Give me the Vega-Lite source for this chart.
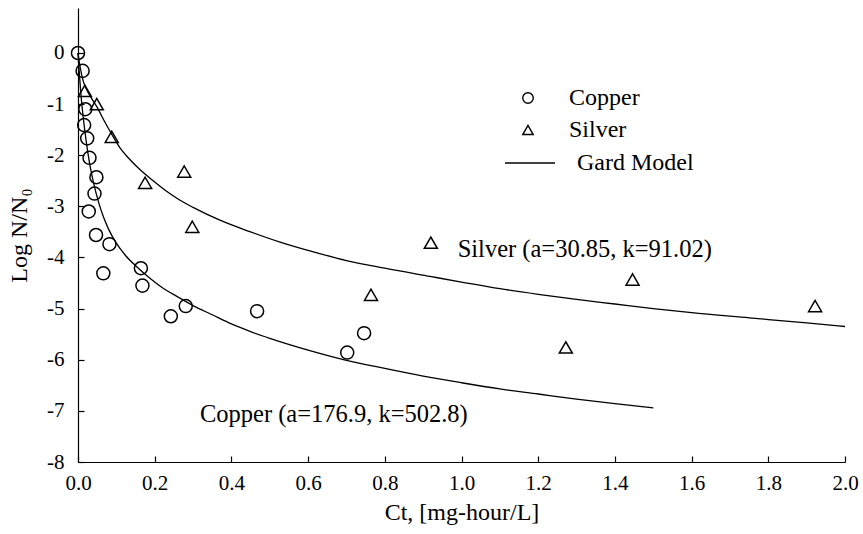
{
  "$schema": "https://vega.github.io/schema/vega-lite/v6.json",
  "width": 767,
  "height": 454,
  "autosize": "none",
  "padding": {"left": 78, "top": 8, "right": 18, "bottom": 72},
  "background": "white",
  "config": {
    "view": {"stroke": null},
    "font": "Liberation Serif",
    "axis": {"grid": false, "domainColor": "black", "domainWidth": 1.2, "tickColor": "black", "tickWidth": 1.2, "labelColor": "black", "titleColor": "black", "labelFont": "Liberation Serif", "titleFont": "Liberation Serif", "titleFontWeight": "normal", "labelFontSize": 21, "titleFontSize": 24, "labelFlush": false, "labelOverlap": false}
  },
  "datasets": {
    "points": [
      {"metal": "Copper", "ct": 0.0, "logn": 0.0},
      {"metal": "Copper", "ct": 0.012, "logn": -0.35},
      {"metal": "Copper", "ct": 0.019, "logn": -1.1},
      {"metal": "Copper", "ct": 0.016, "logn": -1.41},
      {"metal": "Copper", "ct": 0.024, "logn": -1.67},
      {"metal": "Copper", "ct": 0.03, "logn": -2.05},
      {"metal": "Copper", "ct": 0.048, "logn": -2.43},
      {"metal": "Copper", "ct": 0.043, "logn": -2.75},
      {"metal": "Copper", "ct": 0.028, "logn": -3.1},
      {"metal": "Copper", "ct": 0.047, "logn": -3.56},
      {"metal": "Copper", "ct": 0.082, "logn": -3.74},
      {"metal": "Copper", "ct": 0.066, "logn": -4.31},
      {"metal": "Copper", "ct": 0.164, "logn": -4.21},
      {"metal": "Copper", "ct": 0.168, "logn": -4.55},
      {"metal": "Copper", "ct": 0.242, "logn": -5.15},
      {"metal": "Copper", "ct": 0.281, "logn": -4.95},
      {"metal": "Copper", "ct": 0.467, "logn": -5.05},
      {"metal": "Copper", "ct": 0.702, "logn": -5.86},
      {"metal": "Copper", "ct": 0.746, "logn": -5.48},
      {"metal": "Silver", "ct": 0.018, "logn": -0.74},
      {"metal": "Silver", "ct": 0.049, "logn": -1.0},
      {"metal": "Silver", "ct": 0.088, "logn": -1.64},
      {"metal": "Silver", "ct": 0.175, "logn": -2.54},
      {"metal": "Silver", "ct": 0.277, "logn": -2.32},
      {"metal": "Silver", "ct": 0.298, "logn": -3.4},
      {"metal": "Silver", "ct": 0.764, "logn": -4.73},
      {"metal": "Silver", "ct": 0.92, "logn": -3.71},
      {"metal": "Silver", "ct": 1.272, "logn": -5.76},
      {"metal": "Silver", "ct": 1.446, "logn": -4.43},
      {"metal": "Silver", "ct": 1.922, "logn": -4.95}
    ],
    "model": [
      {"metal": "Copper", "ct": 0.0, "logn": 0.0},
      {"metal": "Copper", "ct": 0.003, "logn": -0.35},
      {"metal": "Copper", "ct": 0.007, "logn": -0.75},
      {"metal": "Copper", "ct": 0.012, "logn": -1.15},
      {"metal": "Copper", "ct": 0.02, "logn": -1.65},
      {"metal": "Copper", "ct": 0.03, "logn": -2.15},
      {"metal": "Copper", "ct": 0.04, "logn": -2.52},
      {"metal": "Copper", "ct": 0.055, "logn": -2.95},
      {"metal": "Copper", "ct": 0.066, "logn": -3.2},
      {"metal": "Copper", "ct": 0.08, "logn": -3.45},
      {"metal": "Copper", "ct": 0.1, "logn": -3.72},
      {"metal": "Copper", "ct": 0.125, "logn": -3.97},
      {"metal": "Copper", "ct": 0.153, "logn": -4.18},
      {"metal": "Copper", "ct": 0.19, "logn": -4.42},
      {"metal": "Copper", "ct": 0.222, "logn": -4.6},
      {"metal": "Copper", "ct": 0.26, "logn": -4.77},
      {"metal": "Copper", "ct": 0.3, "logn": -4.94},
      {"metal": "Copper", "ct": 0.35, "logn": -5.12},
      {"metal": "Copper", "ct": 0.4, "logn": -5.3},
      {"metal": "Copper", "ct": 0.45, "logn": -5.45},
      {"metal": "Copper", "ct": 0.5, "logn": -5.58},
      {"metal": "Copper", "ct": 0.6, "logn": -5.81},
      {"metal": "Copper", "ct": 0.7, "logn": -6.01},
      {"metal": "Copper", "ct": 0.8, "logn": -6.17},
      {"metal": "Copper", "ct": 0.9, "logn": -6.32},
      {"metal": "Copper", "ct": 1.0, "logn": -6.45},
      {"metal": "Copper", "ct": 1.1, "logn": -6.57},
      {"metal": "Copper", "ct": 1.2, "logn": -6.67},
      {"metal": "Copper", "ct": 1.3, "logn": -6.77},
      {"metal": "Copper", "ct": 1.4, "logn": -6.86},
      {"metal": "Copper", "ct": 1.5, "logn": -6.94},
      {"metal": "Silver", "ct": 0.0, "logn": 0.0},
      {"metal": "Silver", "ct": 0.005, "logn": -0.25},
      {"metal": "Silver", "ct": 0.014, "logn": -0.56},
      {"metal": "Silver", "ct": 0.03, "logn": -0.82},
      {"metal": "Silver", "ct": 0.049, "logn": -1.05},
      {"metal": "Silver", "ct": 0.07, "logn": -1.35},
      {"metal": "Silver", "ct": 0.092, "logn": -1.64},
      {"metal": "Silver", "ct": 0.11, "logn": -1.86},
      {"metal": "Silver", "ct": 0.131, "logn": -2.05},
      {"metal": "Silver", "ct": 0.16, "logn": -2.27},
      {"metal": "Silver", "ct": 0.196, "logn": -2.5},
      {"metal": "Silver", "ct": 0.23, "logn": -2.7},
      {"metal": "Silver", "ct": 0.266, "logn": -2.88},
      {"metal": "Silver", "ct": 0.3, "logn": -3.02},
      {"metal": "Silver", "ct": 0.37, "logn": -3.27},
      {"metal": "Silver", "ct": 0.45, "logn": -3.5},
      {"metal": "Silver", "ct": 0.527, "logn": -3.7},
      {"metal": "Silver", "ct": 0.6, "logn": -3.86},
      {"metal": "Silver", "ct": 0.7, "logn": -4.06},
      {"metal": "Silver", "ct": 0.8, "logn": -4.21},
      {"metal": "Silver", "ct": 0.918, "logn": -4.37},
      {"metal": "Silver", "ct": 1.0, "logn": -4.48},
      {"metal": "Silver", "ct": 1.1, "logn": -4.61},
      {"metal": "Silver", "ct": 1.2, "logn": -4.72},
      {"metal": "Silver", "ct": 1.3, "logn": -4.82},
      {"metal": "Silver", "ct": 1.4, "logn": -4.91},
      {"metal": "Silver", "ct": 1.5, "logn": -5.0},
      {"metal": "Silver", "ct": 1.6, "logn": -5.08},
      {"metal": "Silver", "ct": 1.75, "logn": -5.18},
      {"metal": "Silver", "ct": 1.9, "logn": -5.28},
      {"metal": "Silver", "ct": 2.0, "logn": -5.35}
    ],
    "notes": [
      {"ct": 0.99, "logn": -3.86, "text": "Silver (a=30.85, k=91.02)"},
      {"ct": 0.318, "logn": -7.08, "text": "Copper (a=176.9, k=502.8)"}
    ]
  },
  "layer": [
    {
      "data": {"name": "model"},
      "mark": {"type": "line", "strokeWidth": 1.3, "interpolate": "monotone"},
      "encoding": {
        "x": {"field": "ct", "type": "quantitative"},
        "y": {"field": "logn", "type": "quantitative"},
        "detail": {"field": "metal"},
        "color": {
          "datum": "Gard Model", "type": "nominal",
          "scale": {"range": ["black"]},
          "legend": {
            "title": null, "orient": "none", "legendX": 426, "legendY": 129,
            "symbolType": "stroke", "symbolSize": 2500, "symbolStrokeWidth": 1.3, "symbolStrokeColor": "black",
            "labelFont": "Liberation Serif", "labelFontSize": 24, "labelColor": "black", "labelOffset": 21
          }
        }
      }
    },
    {
      "data": {"name": "points"},
      "mark": {"type": "point", "filled": false, "color": "black", "strokeWidth": 1.5, "size": 170, "opacity": 1},
      "encoding": {
        "x": {"field": "ct", "type": "quantitative", "scale": {"domain": [0, 2], "nice": false}, "axis": {"values": [0, 0.2, 0.4, 0.6, 0.8, 1.0, 1.2, 1.4, 1.6, 1.8, 2.0], "format": ".1f", "tickSize": -6, "labelPadding": 16, "title": "Ct, [mg-hour/L]", "titlePadding": 7}},
        "y": {"field": "logn", "type": "quantitative", "scale": {"domain": [-8, 0.88], "nice": false}, "axis": {"values": [-8, -7, -6, -5, -4, -3, -2, -1, 0], "labelExpr": "'' + datum.value", "tickSize": -6, "labelPadding": 20, "title": "Log N/N₀", "titlePadding": 15}},
        "shape": {
          "field": "metal", "type": "nominal",
          "scale": {"domain": ["Copper", "Silver"], "range": ["circle", "triangle-up"]},
          "legend": {
            "title": null, "orient": "none", "legendX": 438, "legendY": 78,
            "symbolSize": 110, "symbolStrokeColor": "black", "symbolStrokeWidth": 1.4, "symbolFillColor": "transparent",
            "labelFont": "Liberation Serif", "labelFontSize": 24, "labelColor": "black", "labelOffset": 29, "rowPadding": 8
          }
        }
      }
    },
    {
      "data": {"name": "notes"},
      "mark": {"type": "text", "align": "left", "baseline": "middle", "font": "Liberation Serif", "fontSize": 24.5, "color": "black"},
      "encoding": {
        "x": {"field": "ct", "type": "quantitative"},
        "y": {"field": "logn", "type": "quantitative"},
        "text": {"field": "text"}
      }
    }
  ]
}
